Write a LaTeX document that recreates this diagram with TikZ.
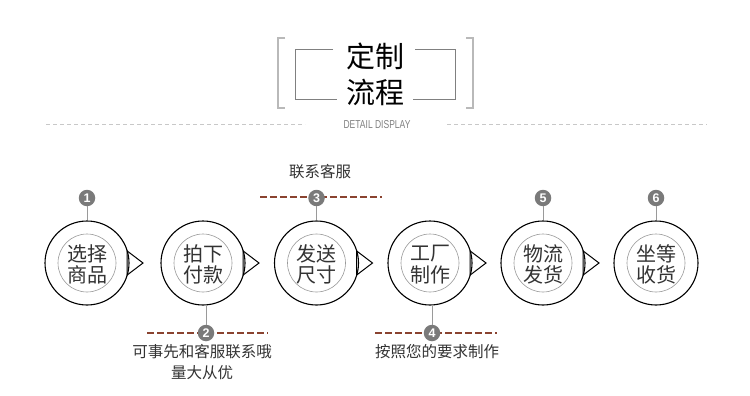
\documentclass[tikz,border=0pt]{standalone}
\usepackage{fontspec}
\usepackage{graphicx}
\setmainfont{Liberation Sans}
\newfontfamily\cjk{Noto Sans CJK SC}
\usetikzlibrary{calc}
\definecolor{txt}{HTML}{333333}
\definecolor{brownred}{HTML}{8A4330}
\definecolor{badgegray}{HTML}{7A7A7A}
\definecolor{linegray}{HTML}{9A9A9A}
\definecolor{lightgray}{HTML}{C8C8C8}
\tikzset{
  outerc/.style={circle,draw=black,line width=1.1pt,minimum size=84pt,inner sep=0pt},
  innerc/.style={circle,draw=linegray,line width=0.6pt,minimum size=58pt,inner sep=0pt},
  ctext/.style={font=\cjk\fontsize{20}{21.5}\selectfont,text=txt,align=center,inner sep=0pt},
  badge/.style={circle,fill=badgegray,minimum size=16.5pt,inner sep=0pt,text=white,font=\bfseries\fontsize{12.5}{12.5}\selectfont},
  stem/.style={draw=linegray,line width=0.8pt},
  tri/.style={draw=black,line width=1pt,line join=miter},
  bdash/.style={draw=brownred,line width=1.4pt,dash pattern=on 6.5pt off 3.5pt},
  gdash/.style={draw=lightgray,line width=0.7pt,dash pattern=on 4pt off 3pt},
  note/.style={font=\cjk\fontsize{15.5}{18}\selectfont,text=txt,inner sep=0pt},
  titletext/.style={font=\cjk\fontsize{29}{30}\selectfont,text=black,inner sep=0pt},
}
\begin{document}
\begin{tikzpicture}[x=1pt,y=-1pt]
\useasboundingbox[fill=white] (0,0) rectangle (750,396);

% title brackets
\draw[draw=lightgray!80!gray,line width=1.4pt] (285,38) -- (278,38) -- (278,108) -- (285,108);
\draw[draw=lightgray!80!gray,line width=1.4pt] (466,38) -- (473,38) -- (473,108) -- (466,108);
\draw[draw=gray,line width=0.9pt] (333,49) -- (295,49) -- (295,99) -- (337,99);
\draw[draw=gray,line width=0.9pt] (415,49) -- (455,49) -- (455,99) -- (413,99);
\node[titletext] (t1) at (375,56) {定制};
\node[titletext] (t2) at (375,92) {流程};

% subtitle
\draw[gdash] (46,124) -- (305,124);
\draw[gdash] (447,124) -- (707,124);
\node[inner sep=0pt,text=gray,font=\fontsize{11.5}{12}\selectfont] (sub) at (377,124.5) {\scalebox{0.74}[1]{DETAIL DISPLAY}};

% circles
\foreach \i/\x/\a/\b in {1/87/选择/商品,2/203/拍下/付款,3/316.5/发送/尺寸,4/430/工厂/制作,5/543/物流/发货,6/656/坐等/收货}{
  \node[outerc] (c\i) at (\x,263) {};
  \node[innerc] (ci\i) at (\x,263) {};
  \node[ctext] (ct\i) at (\x,264.5) {\a\\\b};
}
\foreach \i in {1,...,5}{
  \draw[tri] ($(c\i)+(40.2,-12)$) -- ($(c\i)+(56,0)$) -- ($(c\i)+(40.2,12)$) -- cycle;
}

% top badges
\draw[bdash] (260,197) -- (382,197);
\foreach \i/\x in {1/87,3/316.5,5/543,6/656}{
  \node[badge] (b\i) at (\x,198) {\i};
  \draw[stem] (b\i) -- (c\i);
}
% bottom badges
\draw[bdash] (147,333) -- (268,333);
\draw[bdash] (375,333) -- (497,333);
\foreach \i/\x in {2/206,4/432}{
  \node[badge] (b\i) at (\x,333) {\i};
}
\draw[stem] (b2) -- (b2 |- c2.south);
\draw[stem] (b4) -- (b4 |- c4.south);

% notes
\node[note] (n3) at (320,172) {联系客服};
\node[note] (n2a) at (202,352) {可事先和客服联系哦};
\node[note] (n2b) at (202,373) {量大从优};
\node[note] (n4) at (437,352) {按照您的要求制作};
\end{tikzpicture}
\end{document}
